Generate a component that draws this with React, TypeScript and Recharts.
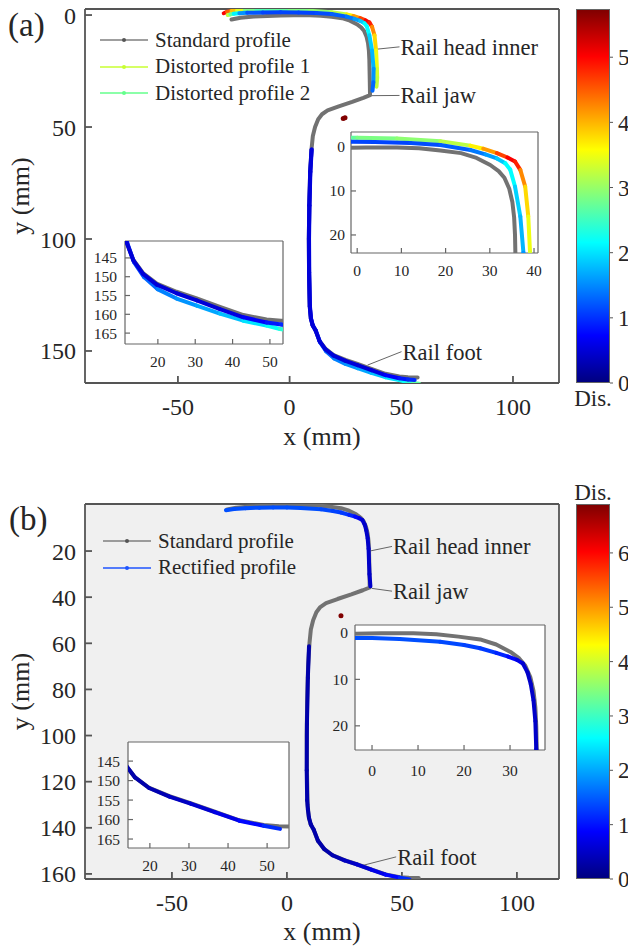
import React from "react";
import {
  ScatterChart,
  Scatter,
  XAxis,
  YAxis,
  CartesianGrid,
  ReferenceLine,
  ReferenceDot,
  Legend,
} from "recharts";

const SERIF = "'Liberation Serif', 'Times New Roman', serif";
const TEXT = "#262626";
const AXIS = "#555555";
const STD_COLOR = "#727272";

// standard rail profile (mm), same in both panels
const stdX = [-26, -22, -16, -10, -4, 2, 9, 14, 18.8, 23.5, 27, 30.1, 32, 33.3, 34.4, 35.1, 35.5, 35.7, 35.8, 35.9, 36, 33, 28, 22, 17, 14.5, 12.8, 11.4, 10.4, 9.8, 9.2, 8.8, 8.6, 8.7, 9, 9.5, 10.3, 11.6, 13.4, 16.1, 19.7, 25, 30.4, 36.6, 42.9, 49.1, 53, 57.3];
const stdY = [2.0, 1.2, 0.7, 0.4, 0.2, 0.1, 0.1, 0.3, 0.8, 1.4, 2.5, 4.1, 5.5, 7, 9.5, 12.5, 16, 20, 25, 30, 35.8, 37, 38.8, 40.8, 42.6, 44.3, 46.5, 50, 54, 60, 70, 85, 100, 115, 130, 135.5, 138.5, 140.8, 145.5, 149.1, 151.8, 154, 155.8, 158, 160.2, 161.4, 161.7, 161.8];

// (a) distorted profile 1
const d1HeadX = [-29.5, -28, -26, -23.5, -20, -15, -8, 0, 9, 18.8, 25.6, 28.5, 31.6, 34, 35.7, 36.9, 38, 38.7, 39.1, 39.2, 38.9];
const d1HeadY = [-0.8, -1.4, -1.8, -2.0, -2.1, -2.1, -2.1, -2.1, -1.9, -1.3, -0.3, 0.4, 1.4, 2.4, 3.3, 5.2, 9, 15.8, 24, 28, 32];
const d1HeadDis = [5.3, 4.8, 4.2, 3.7, 3.1, 2.6, 2.6, 2.8, 2.9, 3.0, 3.4, 3.9, 4.4, 4.9, 5.2, 4.5, 4.0, 3.6, 3.4, 3.3, 3.2];
const d1FootX = [9.9, 9.3, 8.9, 8.7, 8.8, 9.1, 9.6, 10.4, 11.8, 13.6, 16.3, 19.9, 25, 30.4, 36.6, 42.9, 49.1, 52.7, 55.3, 58];
const d1FootY = [60, 70, 85, 100, 115, 130, 135.5, 138.6, 141, 146.1, 150.1, 153.3, 155.8, 157.7, 159.8, 161.7, 163.0, 163.9, 164.3, 164.6];
const d1FootDis = [0.6, 0.6, 0.6, 0.6, 0.6, 0.6, 0.7, 0.8, 0.9, 1.0, 1.2, 1.4, 1.5, 1.6, 1.7, 1.9, 2.1, 2.3, 2.5, 2.9];

// (a) distorted profile 2
const d2HeadX = [-27.7, -26.5, -25, -22.5, -19, -12, -4, 4, 12, 18.8, 25.6, 29, 31.6, 33.5, 34.6, 35.7, 36.9, 37.6, 37.5, 37.1];
const d2HeadY = [0.0, -0.3, -0.6, -0.8, -1.0, -1.1, -1.2, -1.1, -0.9, -0.45, 0.7, 1.7, 2.6, 3.7, 5.1, 9, 15.8, 24, 30, 33.8];
const d2HeadDis = [3.4, 3.0, 2.4, 1.8, 1.3, 1.1, 1.1, 1.1, 1.1, 1.2, 1.3, 1.5, 1.7, 2.0, 2.3, 2.0, 1.8, 1.7, 1.4, 1.2];
const d2FootX = [9.8, 9.2, 8.8, 8.6, 8.7, 9.0, 9.5, 10.3, 11.6, 13.4, 16.1, 19.7, 25, 30.4, 36.6, 42.9, 49.1, 53, 56];
const d2FootY = [60, 70, 85, 100, 115, 130, 135.5, 138.5, 140.8, 145.6, 149.3, 152.1, 154.4, 156.3, 158.6, 160.8, 162.2, 162.7, 163.0];
const d2FootDis = [0.5, 0.5, 0.5, 0.5, 0.5, 0.5, 0.5, 0.5, 0.5, 0.5, 0.5, 0.5, 0.5, 0.5, 0.5, 0.6, 0.8, 0.9, 1.0];

// (b) rectified profile
const recHeadX = [-26.5, -23, -18, -12, -6, 0, 6, 14.8, 20, 23.5, 27, 29.6, 31.5, 32.8, 33.8, 34.5, 35.1, 35.5, 35.7, 35.9, 36.3];
const recHeadY = [2.3, 1.8, 1.4, 1.2, 1.1, 1.1, 1.3, 1.9, 2.6, 3.3, 4.3, 5.1, 5.8, 6.6, 8.5, 11, 14.5, 19, 25, 30, 35.3];
const recHeadDis = [1.4, 1.4, 1.4, 1.4, 1.4, 1.4, 1.4, 1.4, 1.3, 1.3, 1.2, 1.0, 0.8, 0.6, 0.5, 0.5, 0.5, 0.5, 0.5, 0.5, 0.5];
const recFootX = [9.6, 9.1, 8.7, 8.6, 8.8, 9.1, 9.6, 10.4, 11.7, 13.5, 16.2, 19.8, 25, 30.4, 36.6, 42.9, 49.1, 53.3];
const recFootY = [61.3, 75, 95, 115, 128, 132, 135.6, 138.6, 140.9, 145.6, 149.2, 151.9, 154.1, 155.9, 158.1, 160.3, 161.6, 162.4];
const recFootDis = [0.3, 0.3, 0.3, 0.3, 0.3, 0.3, 0.3, 0.3, 0.3, 0.3, 0.3, 0.3, 0.4, 0.5, 0.6, 0.8, 1.0, 1.3];

// stray points
const outAX = [24.0, 24.8];
const outAY = [46.2, 45.9];
const outBX = [23.5];
const outBY = [48.1];

const legendA = ["Standard profile", "Distorted profile 1", "Distorted profile 2"];
const legendAColors = ["#7f7f7f", "#c8ff32", "#64ff8c"];
const legendB = ["Standard profile", "Rectified profile"];
const legendBColors = ["#7f7f7f", "#1f55ff"];

const annotNames = ["Rail head inner", "Rail jaw", "Rail foot"];
const annAFrom = [[38.5, 15.3], [36.7, 36.0], [34.9, 156.3]];
const annATo = [[49.2, 14.2], [49.2, 35.9], [50.1, 150.3]];
const annBFrom = [[36.5, 19.9], [37.0, 36.2], [32.2, 156.5]];
const annBTo = [[45.7, 18.0], [45.7, 37.4], [47.5, 152.6]];

const disMaxA = 5.74;
const disTicksA = [0, 1, 2, 3, 4, 5];
const disMaxB = 6.9;
const disTicksB = [0, 1, 2, 3, 4, 5, 6];

const mainXTicks = [-50, 0, 50, 100];
const mainYTicksA = [0, 50, 100, 150];
const mainYTicksB = [20, 40, 60, 80, 100, 120, 140, 160];
const headXTicksA = [0, 10, 20, 30, 40];
const headXTicksB = [0, 10, 20, 30];
const headYTicks = [0, 10, 20];
const footXTicks = [20, 30, 40, 50];
const footYTicks = [145, 150, 155, 160, 165];

const JET_STOPS = [0, 0.125, 0.375, 0.625, 0.875, 1];

function jet(t: number) {
  const c = (v: number) => Math.round(255 * Math.max(0, Math.min(1, v)));
  return `rgb(${c(1.5 - Math.abs(4 * t - 3))},${c(1.5 - Math.abs(4 * t - 2))},${c(1.5 - Math.abs(4 * t - 1))})`;
}

const pts = (xs: number[], ys: number[]) => xs.map((x, i) => ({ x, y: ys[i] }));

type Seg = { data: { x: number; y: number }[]; color: string };
function colorSegments(xs: number[], ys: number[], ds: number[], max: number): Seg[] {
  const out: Seg[] = [];
  for (let i = 0; i < xs.length - 1; i++) {
    out.push({
      data: [{ x: xs[i], y: ys[i] }, { x: xs[i + 1], y: ys[i + 1] }],
      color: jet((ds[i] + ds[i + 1]) / 2 / max),
    });
  }
  return out;
}

const segsA = [
  ...colorSegments(d1HeadX, d1HeadY, d1HeadDis, disMaxA),
  ...colorSegments(d1FootX, d1FootY, d1FootDis, disMaxA),
  ...colorSegments(d2HeadX, d2HeadY, d2HeadDis, disMaxA),
  ...colorSegments(d2FootX, d2FootY, d2FootDis, disMaxA),
];
const segsB = [
  ...colorSegments(recHeadX, recHeadY, recHeadDis, disMaxB),
  ...colorSegments(recFootX, recFootY, recFootDis, disMaxB),
];

const noDot = () => <g />;
const redDot = (p: any) => <circle cx={p.cx} cy={p.cy} r={2.5} fill={jet(1)} />;

function profiles(segs: Seg[], w: number, outX: number[], outY: number[]) {
  return [
    <Scatter
      key="std"
      data={pts(stdX, stdY)}
      xAxisId="b"
      yAxisId="l"
      line={{ stroke: STD_COLOR, strokeWidth: w, strokeLinecap: "round", strokeLinejoin: "round" }}
      shape={noDot}
      isAnimationActive={false}
    />,
    ...segs.map((s, i) => (
      <Scatter
        key={`seg${i}`}
        data={s.data}
        xAxisId="b"
        yAxisId="l"
        line={{ stroke: s.color, strokeWidth: w, strokeLinecap: "round" }}
        shape={noDot}
        isAnimationActive={false}
      />
    )),
    <Scatter key="out" data={pts(outX, outY)} xAxisId="b" yAxisId="l" shape={redDot} isAnimationActive={false} />,
  ];
}

type FrameOpts = {
  xd: [number, number];
  yd: [number, number];
  xt: number[];
  yt: number[];
  xh: number;
  yw: number;
  fs: number;
  tl: number;
  xg: number;
  yg: number;
  sw: number;
  color: string;
  xLabelOffset?: number;
};

function frame(o: FrameOpts) {
  const tick = { fill: TEXT, fontSize: o.fs, fontFamily: SERIF };
  const line = { stroke: o.color, strokeWidth: o.sw };
  const lab = { fill: TEXT, fontSize: 26, fontFamily: SERIF };
  return [
    <XAxis
      key="xb"
      xAxisId="b"
      type="number"
      dataKey="x"
      domain={o.xd}
      ticks={o.xt}
      interval={0}
      allowDataOverflow
      height={o.xh}
      tickSize={-o.tl}
      tickMargin={o.tl + o.xg}
      tick={tick}
      axisLine={line}
      tickLine={line}
      label={o.xLabelOffset !== undefined ? { value: "x (mm)", position: "insideBottom", offset: o.xLabelOffset, ...lab } : undefined}
    />,
    <XAxis
      key="xt"
      xAxisId="t"
      orientation="top"
      type="number"
      domain={o.xd}
      ticks={o.xt}
      interval={0}
      allowDataOverflow
      height={1}
      tickSize={-o.tl}
      tick={false}
      axisLine={line}
      tickLine={line}
    />,
    <YAxis
      key="yl"
      yAxisId="l"
      type="number"
      dataKey="y"
      reversed
      domain={o.yd}
      ticks={o.yt}
      interval={0}
      allowDataOverflow
      width={o.yw}
      tickSize={-o.tl}
      tickMargin={o.tl + o.yg}
      tick={tick}
      axisLine={line}
      tickLine={line}
      label={
        o.xLabelOffset !== undefined
          ? { value: "y (mm)", angle: -90, position: "insideLeft", offset: 20, style: { textAnchor: "middle" }, ...lab }
          : undefined
      }
    />,
    <YAxis
      key="yr"
      yAxisId="r"
      orientation="right"
      type="number"
      reversed
      domain={o.yd}
      ticks={o.yt}
      interval={0}
      allowDataOverflow
      width={1}
      tickSize={-o.tl}
      tick={false}
      axisLine={line}
      tickLine={line}
    />,
  ];
}

function annotations(from: number[][], to: number[][]) {
  return annotNames.flatMap((name, i) => [
    <ReferenceLine
      key={`al${i}`}
      xAxisId="b"
      yAxisId="l"
      segment={[{ x: from[i][0], y: from[i][1] }, { x: to[i][0], y: to[i][1] }]}
      stroke="#666"
      strokeWidth={1}
      ifOverflow="visible"
    />,
    <ReferenceDot
      key={`ad${i}`}
      xAxisId="b"
      yAxisId="l"
      x={to[i][0]}
      y={to[i][1]}
      r={0}
      fill="none"
      stroke="none"
      ifOverflow="visible"
      label={{ value: name, position: "right", offset: 1, fill: TEXT, fontSize: 22.5, fontFamily: SERIF }}
    />,
  ]);
}

function LegendBox({ names, colors }: { names: string[]; colors: string[] }) {
  return (
    <div style={{ fontFamily: SERIF, fontSize: 21, color: TEXT }}>
      {names.map((n, i) => (
        <div key={n} style={{ display: "flex", alignItems: "center", height: 26.5, whiteSpace: "nowrap" }}>
          <svg width={55} height={10} style={{ flex: "none" }}>
            <line x1={0} y1={5} x2={48} y2={5} stroke={colors[i]} strokeWidth={1.5} />
            <circle cx={24} cy={5} r={2} fill={i === 0 ? "#555" : colors[i]} />
          </svg>
          <span>{n}</span>
        </div>
      ))}
    </div>
  );
}

const jetCss = `linear-gradient(to top, ${JET_STOPS.map((t) => `${jet(t)} ${t * 100}%`).join(", ")})`;

// colour bar: gradient strip sits under the plot area of a small chart that carries the scale
function ColorBar({ top, height, max, ticks, below }: { top: number; height: number; max: number; ticks: number[]; below: boolean }) {
  const tick = { fill: TEXT, fontSize: 23, fontFamily: SERIF };
  const lab = { fill: TEXT, fontSize: 23, fontFamily: SERIF };
  const plotTop = below ? 9 : 44;
  const plotH = below ? height - 9 - 77 : height - 44 - 69;
  return (
    <div style={{ position: "absolute", left: 540, top }}>
      <div
        style={{
          position: "absolute",
          left: 36,
          top: plotTop,
          width: 34,
          height: plotH,
          background: jetCss,
          boxSizing: "border-box",
          border: "1px solid #666",
        }}
      />
      <ScatterChart
        width={120}
        height={height}
        margin={below ? { top: 9, right: 0, bottom: 0, left: 36 } : { top: 0, right: 0, bottom: 69, left: 36 }}
      >
        <XAxis
          xAxisId="c"
          type="number"
          dataKey="x"
          orientation={below ? "bottom" : "top"}
          domain={[0, 1]}
          allowDataOverflow
          height={below ? 77 : 44}
          tick={false}
          tickLine={false}
          axisLine={false}
          label={
            below
              ? { value: "Dis.", position: "insideTop", offset: 7, ...lab }
              : { value: "Dis.", position: "insideBottom", offset: 4, ...lab }
          }
        />
        <YAxis
          yAxisId="c"
          orientation="right"
          type="number"
          dataKey="y"
          domain={[0, max]}
          ticks={ticks}
          interval={0}
          allowDataOverflow
          width={50}
          tickSize={3}
          tickMargin={5}
          tick={tick}
          axisLine={false}
          tickLine={{ stroke: AXIS }}
        />
        <Scatter xAxisId="c" yAxisId="c" data={[{ x: 0.5, y: 0 }]} shape={noDot} isAnimationActive={false} />
      </ScatterChart>
    </div>
  );
}

function Inset(props: {
  left: number;
  top: number;
  width: number;
  height: number;
  margin: { top: number; right: number; bottom: number; left: number };
  opts: FrameOpts;
  segs: Seg[];
  outX: number[];
  outY: number[];
}) {
  return (
    <div style={{ position: "absolute", left: props.left, top: props.top }}>
      <ScatterChart width={props.width} height={props.height} margin={props.margin}>
        <CartesianGrid xAxisId="b" yAxisId="l" horizontal={false} vertical={false} fill="#ffffff" stroke="none" />
        {frame(props.opts)}
        {profiles(props.segs, 4, props.outX, props.outY)}
      </ScatterChart>
    </div>
  );
}

const insetBase = { fs: 15.5, tl: 5, sw: 1.2, color: "#666666" };

export default function App() {
  return (
    <div
      style={{
        position: "absolute",
        left: 0,
        top: 0,
        width: 628,
        height: 948,
        overflow: "hidden",
        background: "#ffffff",
        fontFamily: SERIF,
      }}
    >
      {/* panel (a) */}
      <div style={{ position: "absolute", left: 0, top: 0 }}>
        <ScatterChart width={575} height={460} margin={{ top: 8, right: 15, bottom: 0, left: 0 }}>
          {frame({
            xd: [-91.6, 120.6],
            yd: [-2.7, 164.3],
            xt: mainXTicks,
            yt: mainYTicksA,
            xh: 77,
            yw: 85,
            fs: 24,
            tl: 7,
            xg: 15,
            yg: 9,
            sw: 1.8,
            color: AXIS,
            xLabelOffset: 15,
          })}
          {annotations(annAFrom, annATo)}
          {profiles(segsA, 4, outAX, outAY)}
          <Legend
            layout="vertical"
            align="center"
            verticalAlign="middle"
            wrapperStyle={{ left: 100, top: 27, width: 260 }}
            content={() => <LegendBox names={legendA} colors={legendAColors} />}
          />
        </ScatterChart>
      </div>
      <Inset
        left={300}
        top={120}
        width={250}
        height={160}
        margin={{ top: 11, right: 11, bottom: 0, left: 0 }}
        opts={{ ...insetBase, xd: [-1.4, 40.9], yd: [-3.4, 24.1], xt: headXTicksA, yt: headYTicks, xh: 27, yw: 51, xg: 11.5, yg: 6 }}
        segs={segsA}
        outX={outAX}
        outY={outAY}
      />
      <Inset
        left={70}
        top={230}
        width={225}
        height={140}
        margin={{ top: 10, right: 11, bottom: 0, left: 0 }}
        opts={{ ...insetBase, xd: [11.2, 53.5], yd: [140.5, 167.9], xt: footXTicks, yt: footYTicks, xh: 26, yw: 55, xg: 11.5, yg: 8 }}
        segs={segsA}
        outX={outAX}
        outY={outAY}
      />
      <ColorBar top={0} height={460} max={disMaxA} ticks={disTicksA} below={true} />

      {/* panel (b) */}
      <div style={{ position: "absolute", left: 0, top: 460 }}>
        <ScatterChart width={575} height={488} margin={{ top: 43, right: 15, bottom: 0, left: 0 }}>
          <CartesianGrid xAxisId="b" yAxisId="l" horizontal={false} vertical={false} fill="#f0f0f0" stroke="none" />
          {frame({
            xd: [-87.8, 118.3],
            yd: [-0.4, 162.2],
            xt: mainXTicks,
            yt: mainYTicksB,
            xh: 69,
            yw: 85,
            fs: 24,
            tl: 7,
            xg: 15,
            yg: 9,
            sw: 1.8,
            color: AXIS,
            xLabelOffset: 8,
          })}
          {annotations(annBFrom, annBTo)}
          {profiles(segsB, 4, outBX, outBY)}
          <Legend
            layout="vertical"
            align="center"
            verticalAlign="middle"
            wrapperStyle={{ left: 103, top: 68, width: 260 }}
            content={() => <LegendBox names={legendB} colors={legendBColors} />}
          />
        </ScatterChart>
      </div>
      <Inset
        left={300}
        top={610}
        width={258}
        height={170}
        margin={{ top: 14, right: 12, bottom: 0, left: 0 }}
        opts={{ ...insetBase, xd: [-3.7, 37.6], yd: [-1.7, 25.2], xt: headXTicksB, yt: headYTicks, xh: 30, yw: 55, xg: 14.5, yg: 7 }}
        segs={segsB}
        outX={outBX}
        outY={outBY}
      />
      <Inset
        left={70}
        top={730}
        width={232}
        height={145}
        margin={{ top: 11, right: 12, bottom: 0, left: 0 }}
        opts={{ ...insetBase, xd: [14.4, 55.6], yd: [140.1, 167.3], xt: footXTicks, yt: footYTicks, xh: 27, yw: 58, xg: 11.5, yg: 8 }}
        segs={segsB}
        outX={outBX}
        outY={outBY}
      />
      <ColorBar top={460} height={488} max={disMaxB} ticks={disTicksB} below={false} />

      <div style={{ position: "absolute", left: 8, top: 9, fontSize: 33, lineHeight: "33px", color: TEXT }}>(a)</div>
      <div style={{ position: "absolute", left: 9, top: 503, fontSize: 33, lineHeight: "33px", color: TEXT }}>(b)</div>
    </div>
  );
}
